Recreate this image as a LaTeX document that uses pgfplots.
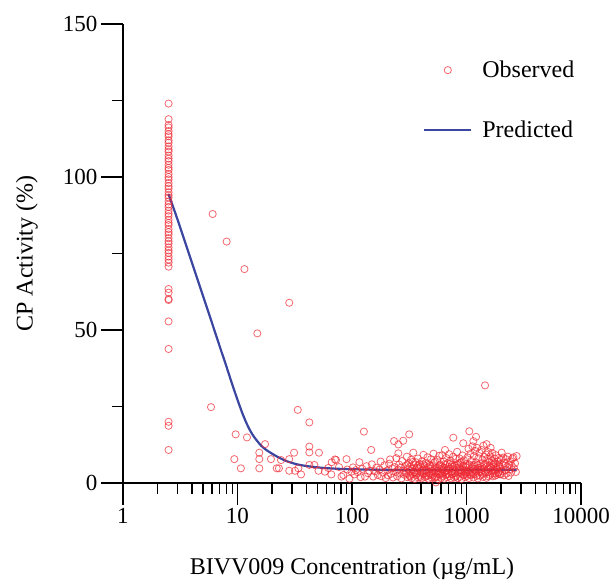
\documentclass[border=0pt]{standalone}
\usepackage{fontspec}
\setmainfont{Liberation Serif}
\usepackage{pgfplots}
\pgfplotsset{compat=1.18}
\definecolor{obsred}{RGB}{238,40,50}
\definecolor{predblue}{RGB}{58,70,160}
\pgfplotsset{
  legend line/.style={legend image code/.code={\draw[##1] (0pt,0pt) -- (47pt,0pt);}},
  legend dot/.style={legend image code/.code={\draw[mark repeat=2, mark phase=2, ##1]
    plot coordinates {(0pt,0pt) (23.5pt,0pt) (47pt,0pt)};}},
}

\begin{document}
\begin{tikzpicture}
\begin{semilogxaxis}[
  name=ax, at={(0,0)}, anchor=south west,
  scale only axis, width=458pt, height=459pt,
  xmin=1, xmax=10000, ymin=0, ymax=150,
  axis lines=left, axis line style={-, line width=1.6pt},
  every tick/.style={black, line width=1.4pt},
  tick align=outside, major tick length=22pt, minor tick length=11pt,
  xtick={1,10,100,1000,10000},
  xticklabels={1,10,100,1000,10000},
  minor xtick={2,3,4,5,6,7,8,9,20,30,40,50,60,70,80,90,200,300,400,500,600,700,800,900,2000,3000,4000,5000,6000,7000,8000,9000},
  ytick={0,50,100,150}, minor ytick={25,75,125},
  /pgf/number format/assume math mode=true,
  tick label style={font=\fontsize{23}{26}\selectfont},
  label style={font=\fontsize{24}{28}\selectfont},
  xlabel={BIVV009 Concentration (µg/mL)},
  ylabel={CP Activity (\%)},
  xlabel style={at={(axis description cs:0.5,-0.187)}, anchor=center},
  ylabel style={at={(axis description cs:-0.21,0.5)}, anchor=center},
  clip=false,
  reverse legend,
  legend style={draw=none, fill=none, inner sep=0pt,
    at={(axis description cs:0.655,0.924)}, anchor=north west,
    font=\fontsize{24}{28}\selectfont, row sep=38pt,
    /tikz/every odd column/.append style={column sep=8pt}},
  legend cell align=left,
]
% predicted curve
\addplot[predblue, line width=2.2pt, smooth, legend line]
  coordinates {
  (2.5,94.4) (3,86.0) (4,72.0) (5,61.1) (6,52.2) (7,44.6) (8,38.1)
  (9,32.2) (10,27.2) (11,22.9) (12,19.5) (13,16.9) (14,15.0) (16,12.3)
  (18,10.7) (22,8.7) (27,7.1) (35,5.9) (50,5.1) (70,4.7)
  (100,4.5) (200,4.3) (500,4.25) (1000,4.3) (2740,4.3)
  };
\addlegendentry{Predicted}
% observed values
\addplot[only marks, mark=o, mark size=3.6pt, obsred, opacity=0.7,
  mark options={line width=0.8pt}, legend dot]
  coordinates {
  % lowest dose column
  (2.5,124) (2.5,118.9) (2.5,117) (2.5,116.2) (2.5,115) (2.5,114) (2.5,113.3)
  (2.5,112) (2.5,111.2) (2.5,110) (2.5,109) (2.5,108.3) (2.5,107) (2.5,106)
  (2.5,105.2) (2.5,104) (2.5,103) (2.5,102.3) (2.5,101) (2.5,100) (2.5,99.2)
  (2.5,98) (2.5,97) (2.5,96.2) (2.5,95) (2.5,94) (2.5,93.3) (2.5,92)
  (2.5,91) (2.5,90.2) (2.5,89) (2.5,88) (2.5,87.2) (2.5,86) (2.5,85)
  (2.5,84.3) (2.5,83) (2.5,82) (2.5,81.2) (2.5,80) (2.5,79) (2.5,78.2)
  (2.5,77) (2.5,76) (2.5,75.2) (2.5,74) (2.5,73) (2.5,72) (2.5,70.7)
  (2.5,63.4) (2.5,62.2) (2.5,60.1) (2.5,59.8) (2.5,52.8) (2.5,43.8)
  (2.5,20.0) (2.5,18.7) (2.5,10.8)
  % 3 to 100
  (6.07,87.9) (8.04,78.9) (11.5,69.9) (28.3,58.9) (14.9,48.9) (5.87,24.8)
  (33.6,23.9) (42.4,19.8) (9.64,15.9) (12.1,14.9) (17.4,12.7) (15.5,9.9)
  (9.38,7.8) (10.7,4.8) (15.5,7.8) (15.5,4.8) (19.6,7.8) (22,4.8) (23,4.8)
  (24,7.5) (28.3,7.8) (28.3,4.0) (31.2,9.9) (31.8,4.0) (35.9,2.8) (42.4,11.9)
  (42.4,10.0) (42.4,5.9) (46.9,5.9) (51.5,9.9) (51,4.0) (34,4.8)
  (58,3.7) (66.5,6.8) (66,2.8) (71,7.7) (72.5,7.5) (81,2.1) (84,2.6)
  (89.5,7.8) (91,4.4) (99,3.7) (62,4.9) (77,5.2) (95,1.4)
  % 100 to 300
  (102,5.1) (105,2.8) (108,4.2) (112,3.5) (116,6.8) (119,1.9) (123,4.6)
  (127,16.8) (130,2.1) (134,5.5) (138,3.2) (142,4.0) (147,10.8) (149,6.1)
  (153,2.1) (158,3.8) (163,5.0) (168,2.6) (174,4.4) (178,7.0) (180,2.2)
  (186,3.4) (192,5.8) (197,1.6) (203,4.1) (207,2.5) (211,6.3) (215,7.7)
  (219,3.0) (224,4.8) (228,1.8) (233,13.7) (236,5.2) (240,3.6) (244,8.1)
  (248,2.2) (252,4.4) (254,9.7) (254,12.6) (258,6.0) (262,3.1) (266,5.0)
  (270,1.5) (274,7.2) (280,13.8) (282,4.0) (287,2.7) (292,5.6) (296,3.3)
  % 300 to 500
  (301,8.6) (304,1.9) (307,4.7) (310,3.0) (313,6.4) (316,15.9) (318,2.4)
  (321,5.3) (325,3.8) (328,7.6) (331,1.6) (335,4.5) (338,2.9) (343,9.9)
  (346,5.9) (349,3.5) (353,1.3) (356,4.2) (360,6.8) (364,2.6) (368,5.0)
  (372,3.3) (376,8.0) (380,1.8) (384,4.8) (388,2.4) (392,6.2) (396,3.6)
  (400,5.4) (404,1.5) (409,7.1) (413,2.9) (417,4.3) (421,9.2) (425,3.1)
  (430,5.7) (434,1.9) (438,4.0) (443,6.6) (447,2.3) (452,3.7) (456,8.4)
  (461,5.1) (466,1.4) (470,3.2) (475,6.0) (480,2.7) (485,4.6) (490,7.8)
  (495,1.8) (500,3.9)
  (305,5.9) (322,2.1) (340,6.9) (358,3.6) (377,5.6) (397,2.0) (418,6.1)
  (440,4.2) (462,2.4) (485,5.6)
  % 500 to 1000
  (505,5.5) (510,2.5) (515,9.6) (520,4.2) (525,1.6) (530,6.9) (535,3.4)
  (540,0.2) (545,5.0) (550,2.1) (556,7.5) (561,3.9) (567,1.2) (572,4.8)
  (578,8.9) (584,2.8) (590,6.1) (596,3.5) (602,1.7) (608,5.4) (614,9.1)
  (620,2.3) (626,4.4) (632,7.0) (638,1.4) (645,3.6) (649,10.8) (651,5.9)
  (658,2.6) (664,8.2) (671,4.1) (678,1.9) (684,6.5) (691,3.0) (698,5.2)
  (705,9.4) (712,2.2) (719,4.7) (727,7.3) (734,1.5) (741,3.8) (749,6.0)
  (756,2.9) (764,8.6) (767,14.8) (772,4.5) (780,1.8) (787,5.7) (795,3.2)
  (803,7.9) (811,2.4) (820,4.9) (828,10.2) (836,1.6) (845,6.3) (853,3.5)
  (862,5.1) (870,8.0) (879,2.0) (888,4.3) (897,6.8) (906,1.3) (915,3.9)
  (924,9.0) (933,5.6) (937,13.0) (943,2.7) (952,7.4) (962,4.0) (971,1.9)
  (981,6.1) (991,3.3)
  (503,3.0) (518,6.6) (533,1.9) (548,4.0) (563,2.9) (581,5.8) (599,4.6)
  (617,3.1) (635,5.0) (655,4.0) (675,2.8) (695,4.6) (715,6.2) (738,3.0)
  (760,5.3) (783,3.8) (806,2.1) (830,5.9) (855,4.2) (880,6.6) (905,3.0)
  (930,4.4) (957,2.5) (985,5.3)
  % 1000 to 2000
  (1000,5.0) (1010,2.3) (1020,8.4) (1030,3.7) (1041,11.2) (1051,1.6)
  (1058,16.9) (1062,6.0) (1072,4.1) (1083,9.6) (1094,2.6) (1105,7.2)
  (1116,3.4) (1127,12.0) (1138,5.5) (1148,13.7) (1150,1.8) (1161,8.8)
  (1173,4.6) (1185,10.5) (1197,2.9) (1209,6.7) (1211,15.1) (1221,3.9)
  (1233,11.5) (1246,5.8) (1258,1.5) (1271,8.1) (1284,4.3) (1297,9.9)
  (1310,2.4) (1323,6.4) (1336,3.6) (1350,10.8) (1363,5.2) (1377,7.6)
  (1391,2.0) (1405,12.2) (1419,4.8) (1433,8.5) (1447,3.1) (1452,31.9)
  (1462,6.2) (1477,9.3) (1492,1.7) (1500,12.7) (1507,5.4) (1522,7.9)
  (1537,3.5) (1553,10.1) (1568,4.5) (1584,6.9) (1600,2.6) (1616,8.7)
  (1625,11.5) (1632,5.1) (1649,3.8) (1665,7.3) (1682,9.8) (1699,2.2)
  (1716,5.9) (1733,4.0) (1751,8.0) (1768,6.5) (1786,3.2) (1804,9.1)
  (1822,4.9) (1841,2.7) (1859,7.0) (1878,5.5) (1897,3.6) (1916,8.2)
  (1935,6.1) (1955,2.9) (1974,4.7)
  (1005,3.4) (1035,5.8) (1066,2.8) (1098,4.6) (1130,3.0) (1163,5.9)
  (1197,4.2) (1232,2.3) (1268,5.0) (1305,3.8) (1343,4.6) (1382,2.9)
  (1422,6.0) (1463,3.6) (1505,4.4) (1548,2.2) (1592,5.6) (1638,4.8)
  (1685,3.1) (1733,6.3) (1782,2.4) (1833,4.5) (1885,3.3) (1938,5.5)
  (1990,2.8)
  % 2000 and above
  (2000,7.5) (2028,9.9) (2050,3.8) (2075,5.9) (2100,8.3) (2125,2.5)
  (2150,6.6) (2180,4.2) (2210,7.8) (2240,3.1) (2270,5.4) (2300,8.6)
  (2330,2.3) (2360,6.0) (2390,4.5) (2420,7.1) (2450,3.4) (2480,5.7)
  (2520,8.0) (2570,8.4) (2600,4.8) (2650,6.4) (2700,3.6) (2742,8.8)
  };
\addlegendentry{Observed}
\end{semilogxaxis}
\pgfresetboundingbox
\path ([xshift=-123pt,yshift=-97pt]ax.south west) rectangle ([xshift=35pt,yshift=24pt]ax.north east);
\end{tikzpicture}
\end{document}
